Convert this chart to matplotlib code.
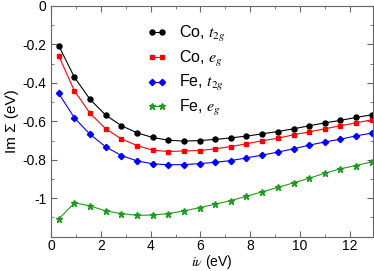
import matplotlib
matplotlib.use("Agg")
import matplotlib.pyplot as plt
import matplotlib.ticker as ticker
import numpy as np

plt.rcParams["font.family"] = ["Liberation Sans", "DejaVu Sans"]
plt.rcParams["mathtext.fontset"] = "stix"
plt.rcParams["axes.unicode_minus"] = False

# Matsubara frequencies (eV)
nu = [0.31, 0.94, 1.57, 2.20, 2.83, 3.46, 4.08, 4.71, 5.34, 5.97, 6.60,
      7.23, 7.85, 8.48, 9.11, 9.74, 10.37, 11.00, 11.62, 12.25, 12.88]

co_t2g = [-0.207, -0.371, -0.486, -0.568, -0.623, -0.660, -0.684, -0.698, -0.703,
          -0.700, -0.694, -0.686, -0.677, -0.665, -0.653, -0.639, -0.623, -0.608,
          -0.595, -0.580, -0.566]
co_eg = [-0.260, -0.441, -0.559, -0.639, -0.692, -0.726, -0.750, -0.757, -0.754,
         -0.752, -0.743, -0.731, -0.717, -0.701, -0.688, -0.670, -0.655, -0.639,
         -0.623, -0.608, -0.592]
fe_t2g = [-0.455, -0.582, -0.668, -0.733, -0.778, -0.806, -0.821, -0.826, -0.825,
          -0.820, -0.813, -0.804, -0.790, -0.776, -0.760, -0.743, -0.724, -0.707,
          -0.693, -0.676, -0.661]
fe_eg = [-1.108, -1.024, -1.040, -1.066, -1.080, -1.089, -1.087, -1.080, -1.066,
         -1.049, -1.031, -1.012, -0.990, -0.967, -0.944, -0.920, -0.896, -0.870,
         -0.847, -0.830, -0.811]

series = [
    (co_t2g, "black", "o", 3.6, r"Co, $t_{2g}$"),
    (co_eg, "red", "s", 3.2, r"Co, $e_g$"),
    (fe_t2g, "blue", "D", 3.2, r"Fe, $t_{2g}$"),
    (fe_eg, "#1f9a1f", "*", 5.0, r"Fe, $e_g$"),
]

fig = plt.figure(figsize=(3.74, 2.71), dpi=100)
ax = fig.add_axes([0.1364, 0.1266, 0.8601, 0.8514])

for vals, col, mk, ms, lab in series:
    ax.plot(nu, vals, color=col, marker=mk, markersize=ms, linewidth=0.8,
            label=lab)

ax.set_xlim(0, 12.92)
ax.set_ylim(-1.2, 0)
ax.xaxis.set_major_locator(ticker.MultipleLocator(2))
ax.xaxis.set_minor_locator(ticker.MultipleLocator(1))
ax.yaxis.set_major_locator(ticker.MultipleLocator(0.2))
ax.yaxis.set_minor_locator(ticker.MultipleLocator(0.1))
ax.yaxis.set_major_formatter(
    ticker.FuncFormatter(lambda v, p: "" if v < -1.1 else f"{v:g}"))
ax.tick_params(which="both", direction="in", top=True, right=True,
               labelsize=10, color="0.4")
ax.tick_params(which="major", length=4)
ax.tick_params(which="minor", length=2)
ax.tick_params(axis="x", pad=2)
for sp in ax.spines.values():
    sp.set_color("0.4")

ax.set_xlabel(r"$i\nu$ (eV)", fontsize=10, va="center")
ax.xaxis.set_label_coords(0.5, -0.11)
ax.set_ylabel("Im Σ (eV)", fontsize=11, labelpad=2)

ax.legend(loc="upper left", bbox_to_anchor=(0.255, 0.985), frameon=False,
          numpoints=2, handlelength=1.2, handletextpad=0.8, labelspacing=0.3,
          fontsize=11.5)

fig.savefig("out.png", dpi=100)
